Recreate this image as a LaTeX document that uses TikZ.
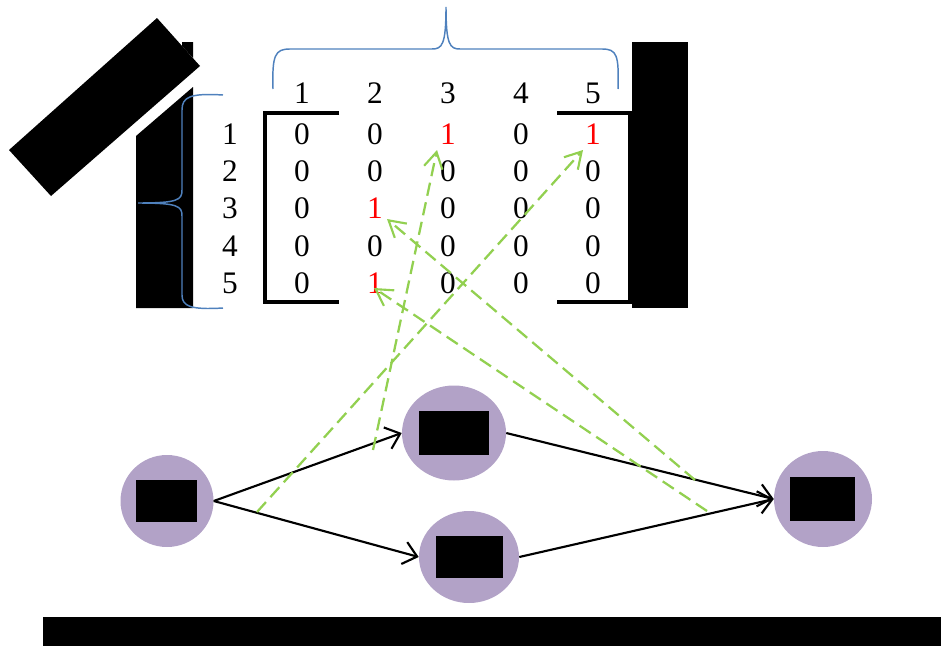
\documentclass[tikz,border=0pt]{standalone}
\usepackage{fontspec}
\setmainfont{Liberation Serif}
\usetikzlibrary{arrows.meta,shapes.geometric}
\definecolor{nodepurple}{RGB}{178,162,199}
\definecolor{bracecol}{RGB}{79,129,189}
\definecolor{dashgreen}{RGB}{146,208,80}
\definecolor{redone}{RGB}{255,0,0}
\tikzset{
  ent/.style={inner sep=0pt, font=\fontsize{23.5}{28}\selectfont},
  redent/.style={ent, text=redone},
  stage/.style={draw=none, fill=nodepurple, ellipse, inner sep=0pt},
  redact/.style={fill=black, draw=none},
  flow/.style={line width=1.6pt, -{Straight Barb[length=10pt,width=17pt,line width=1.6pt]}},
  link/.style={line width=1.7pt, dashgreen, dash pattern=on 10pt off 5pt, -{Straight Barb[length=12pt,width=14pt,line width=1.6pt]}},
  bracket/.style={line width=2.6pt},
  brace/.style={line width=1.1pt, bracecol}
}
\begin{document}
\begin{tikzpicture}[x=0.75pt,y=-0.75pt]
\useasboundingbox (0,0) rectangle (941,646);
% redaction shapes
\fill[redact] (136,136) -- (193,87) -- (193,308) -- (136,308) -- cycle;
\fill[redact] (182,42) -- (193,42) -- (193,58) -- (182,46) -- cycle;
\fill[redact] (157,18) -- (200,66) -- (51,196) -- (9,150) -- cycle;
\fill[redact] (632,42) rectangle (688,308);
\fill[redact] (43,617) rectangle (941,646);
% column headers
\foreach \c/\x in {1/302,2/375,3/448,4/521,5/593}
  \node[ent] (h\c) at (\x,93) {\c};
% row headers
\foreach \r/\y in {1/134,2/171,3/208,4/246,5/283}
  \node[ent] (r\r) at (230,\y) {\r};
% entries
\foreach \r/\y in {1/134,2/171,3/208,4/246,5/283}{
  \foreach \c/\x in {1/302,2/375,3/448,4/521,5/593}{
    \coordinate (p\r\c) at (\x,\y);
  }
}
\node[ent] (m11) at (p11) {0};
\node[ent] (m12) at (p12) {0};
\node[redent] (m13) at (p13) {1};
\node[ent] (m14) at (p14) {0};
\node[redent] (m15) at (p15) {1};
\node[ent] (m21) at (p21) {0};
\node[ent] (m22) at (p22) {0};
\node[ent] (m23) at (p23) {0};
\node[ent] (m24) at (p24) {0};
\node[ent] (m25) at (p25) {0};
\node[ent] (m31) at (p31) {0};
\node[redent] (m32) at (p32) {1};
\node[ent] (m33) at (p33) {0};
\node[ent] (m34) at (p34) {0};
\node[ent] (m35) at (p35) {0};
\node[ent] (m41) at (p41) {0};
\node[ent] (m42) at (p42) {0};
\node[ent] (m43) at (p43) {0};
\node[ent] (m44) at (p44) {0};
\node[ent] (m45) at (p45) {0};
\node[ent] (m51) at (p51) {0};
\node[redent] (m52) at (p52) {1};
\node[ent] (m53) at (p53) {0};
\node[ent] (m54) at (p54) {0};
\node[ent] (m55) at (p55) {0};
% brackets
\draw[bracket] (339,113) -- (265,113) -- (265,302) -- (339,302);
\draw[bracket] (557,113) -- (630,113) -- (630,302) -- (557,302);
% braces
\draw[brace] (273,89) .. controls (272,55) and (275,49) .. (290,49) -- (432,49)
  .. controls (442,49) and (446,45) .. (446,7)
  .. controls (446,45) and (450,49) .. (460,49) -- (602,49)
  .. controls (617,49) and (619,55) .. (618,89);
\draw[brace] (223,95) .. controls (190,93) and (182,97) .. (182,110) -- (182,190)
  .. controls (182,200) and (178,203) .. (138,203)
  .. controls (178,203) and (182,206) .. (182,216) -- (182,295)
  .. controls (182,306) and (190,310) .. (223,308);
% graph nodes
\node[stage, minimum width={93*0.75pt}, minimum height={92*0.75pt}] (s) at (167,501) {};
\node[stage, minimum width={104*0.75pt}, minimum height={95*0.75pt}] (a) at (454,433) {};
\node[stage, minimum width={100*0.75pt}, minimum height={92*0.75pt}] (b) at (469,557) {};
\node[stage, minimum width={98*0.75pt}, minimum height={96*0.75pt}] (t) at (823,499) {};
\fill[redact] (136,480) rectangle (197,522);
\fill[redact] (419,411) rectangle (489,455);
\fill[redact] (436,536) rectangle (503,578);
\fill[redact] (790,477) rectangle (855,521);
% flow arrows
\draw[flow] (s.east) -- (a.west);
\draw[flow] (s.east) -- (b.west);
\draw[flow] (a.east) -- (t.west);
\draw[flow] (b.east) -- (t.west);
% dashed links
\coordinate (g1s) at (257,512); \coordinate (g1e) at (583,150);
\coordinate (g2s) at (373,450); \coordinate (g2e) at (437,150);
\coordinate (g3s) at (695,480); \coordinate (g3e) at (387,219);
\coordinate (g4s) at (707,511); \coordinate (g4e) at (374,288);
\draw[link] (g1s) -- (g1e);
\draw[link] (g2s) -- (g2e);
\draw[link] (g3s) -- (g3e);
\draw[link] (g4s) -- (g4e);
\end{tikzpicture}
\end{document}
